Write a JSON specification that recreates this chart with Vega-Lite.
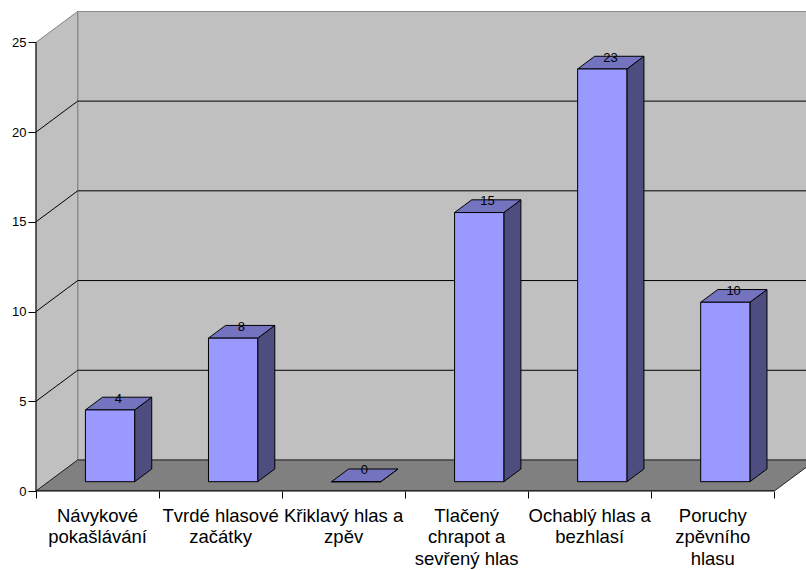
{
  "$schema": "https://vega.github.io/schema/vega-lite/v6.json",
  "width": 770,
  "height": 480,
  "autosize": {"type": "none"},
  "padding": {"left": 36, "top": 11, "right": 0, "bottom": 79},
  "background": "white",
  "config": {
    "view": {"stroke": null},
    "font": "Liberation Sans",
    "axisX": {"labels": false, "domain": false, "grid": false, "ticks": true, "tickColor": "black", "tickSize": 7},
    "axisY": {"domain": false, "grid": false, "ticks": true, "tickColor": "black", "tickSize": 8, "labelPadding": 2, "labelFontSize": 13, "labelColor": "black", "labelFont": "Liberation Sans"}
  },
  "datasets": {
    "bars": [
      {"cat": "Návykové\npokašlávání", "value": 4},
      {"cat": "Tvrdé hlasové\nzačátky", "value": 8},
      {"cat": "Křiklavý hlas a\nzpěv", "value": 0},
      {"cat": "Tlačený\nchrapot a\nsevřený hlas", "value": 15},
      {"cat": "Ochablý hlas a\nbezhlasí", "value": 23},
      {"cat": "Poruchy\nzpěvního\nhlasu", "value": 10}
    ],
    "depth": [{"d": 0}, {"d": 1}],
    "grid": [{"v": 5}, {"v": 10}, {"v": 15}, {"v": 20}]
  },
  "layer": [
    {
      "data": {"values": [{}]},
      "mark": {"type": "rect", "fill": "#c0c0c0", "stroke": "#808080", "strokeWidth": 1, "clip": true},
      "encoding": {
        "x": {"datum": 0.3389, "type": "quantitative", "title": null,
              "scale": {"domain": [0, 6.2576], "nice": false, "zero": false},
              "axis": {"values": [0, 1, 2, 3, 4, 5, 6], "title": null}},
        "x2": {"datum": 6.6},
        "y": {"datum": 1.728, "type": "quantitative", "title": null,
              "scale": {"domain": [0, 26.75], "nice": false, "zero": false},
              "axis": {"values": [0, 5, 10, 15, 20, 25], "title": null}},
        "y2": {"datum": 26.728}
      }
    },
    {
      "data": {"name": "depth"},
      "transform": [
        {"calculate": "datum.d * 0.3389", "as": "wx"},
        {"calculate": "datum.d * 1.728", "as": "wy"},
        {"calculate": "25 + datum.d * 1.728", "as": "wy2"}
      ],
      "mark": {"type": "area", "orient": "vertical", "fill": "#c0c0c0", "stroke": "#808080", "strokeWidth": 1},
      "encoding": {
        "x": {"field": "wx", "type": "quantitative", "title": null},
        "y": {"field": "wy", "type": "quantitative", "title": null},
        "y2": {"field": "wy2"}
      }
    },
    {
      "data": {"name": "grid"},
      "transform": [{"calculate": "datum.v + 1.728", "as": "gy"}],
      "mark": {"type": "rule", "color": "black", "strokeWidth": 1, "clip": true},
      "encoding": {
        "x": {"datum": 0.3389, "type": "quantitative", "title": null},
        "x2": {"datum": 6.6},
        "y": {"field": "gy", "type": "quantitative", "title": null}
      }
    },
    {
      "data": {"name": "grid"},
      "transform": [{"calculate": "datum.v + 1.728", "as": "gy"}],
      "mark": {"type": "rule", "color": "black", "strokeWidth": 1},
      "encoding": {
        "x": {"datum": 0, "type": "quantitative", "title": null},
        "x2": {"datum": 0.3389},
        "y": {"field": "v", "type": "quantitative", "title": null},
        "y2": {"field": "gy"}
      }
    },
    {
      "data": {"name": "depth"},
      "transform": [
        {"calculate": "datum.d * 1.728", "as": "fy"},
        {"calculate": "datum.d * 0.3389", "as": "fx"},
        {"calculate": "6 + datum.d * 0.3389", "as": "fx2"}
      ],
      "mark": {"type": "area", "orient": "horizontal", "fill": "#808080", "stroke": "#222222", "strokeWidth": 1, "clip": true},
      "encoding": {
        "y": {"field": "fy", "type": "quantitative", "title": null},
        "x": {"field": "fx", "type": "quantitative", "title": null},
        "x2": {"field": "fx2"}
      }
    },
    {
      "data": {"values": [{}]},
      "mark": {"type": "rule", "color": "black", "strokeWidth": 1},
      "encoding": {
        "x": {"datum": 0, "type": "quantitative", "title": null},
        "x2": {"datum": 6},
        "y": {"datum": 0, "type": "quantitative", "title": null}
      }
    },
    {
      "data": {"values": [{}]},
      "mark": {"type": "rule", "color": "black", "strokeWidth": 1},
      "encoding": {
        "x": {"datum": 0, "type": "quantitative", "title": null},
        "y": {"datum": 0, "type": "quantitative", "title": null},
        "y2": {"datum": 25}
      }
    },
    {
      "data": {"name": "bars"},
      "transform": [
        {"window": [{"op": "row_number", "as": "rn"}]},
        {"calculate": "datum.rn - 1", "as": "i"},
        {"calculate": "0.3", "as": "f0"},
        {"calculate": "0.71", "as": "f1"},
        {"fold": ["f0", "f1"], "as": ["k", "d"]},
        {"calculate": "datum.i + 0.7 + datum.d * 0.3389", "as": "sx"},
        {"calculate": "datum.d * 1.728", "as": "sy"},
        {"calculate": "datum.value + datum.d * 1.728", "as": "sy2"}
      ],
      "mark": {"type": "area", "orient": "vertical", "fill": "#4d4d80", "stroke": "black", "strokeWidth": 1, "strokeJoin": "miter"},
      "encoding": {
        "x": {"field": "sx", "type": "quantitative", "title": null},
        "y": {"field": "sy", "type": "quantitative", "title": null},
        "y2": {"field": "sy2"},
        "detail": {"field": "cat"}
      }
    },
    {
      "data": {"name": "bars"},
      "transform": [
        {"window": [{"op": "row_number", "as": "rn"}]},
        {"calculate": "datum.rn - 1", "as": "i"},
        {"calculate": "0.3", "as": "f0"},
        {"calculate": "0.71", "as": "f1"},
        {"fold": ["f0", "f1"], "as": ["k", "d"]},
        {"calculate": "datum.value + datum.d * 1.728", "as": "ty"},
        {"calculate": "datum.i + 0.3 + datum.d * 0.3389", "as": "tx"},
        {"calculate": "datum.i + 0.7 + datum.d * 0.3389", "as": "tx2"}
      ],
      "mark": {"type": "area", "orient": "horizontal", "fill": "#7373bf", "stroke": "black", "strokeWidth": 1, "strokeJoin": "miter"},
      "encoding": {
        "y": {"field": "ty", "type": "quantitative", "title": null},
        "x": {"field": "tx", "type": "quantitative", "title": null},
        "x2": {"field": "tx2"},
        "detail": {"field": "cat"}
      }
    },
    {
      "data": {"name": "bars"},
      "transform": [
        {"window": [{"op": "row_number", "as": "rn"}]},
        {"calculate": "datum.rn - 1", "as": "i"},
        {"calculate": "datum.i + 0.3 + 0.3 * 0.3389", "as": "bx"},
        {"calculate": "datum.i + 0.7 + 0.3 * 0.3389", "as": "bx2"},
        {"calculate": "0.3 * 1.728", "as": "by"},
        {"calculate": "datum.value + 0.3 * 1.728", "as": "by2"}
      ],
      "mark": {"type": "rect", "fill": "#9999ff", "stroke": "black", "strokeWidth": 1},
      "encoding": {
        "x": {"field": "bx", "type": "quantitative", "title": null},
        "x2": {"field": "bx2"},
        "y": {"field": "by", "type": "quantitative", "title": null},
        "y2": {"field": "by2"}
      }
    },
    {
      "data": {"name": "bars"},
      "transform": [
        {"window": [{"op": "row_number", "as": "rn"}]},
        {"calculate": "datum.rn - 0.5 + 0.5 * 0.3389", "as": "lx"},
        {"calculate": "datum.value + 0.5 * 1.728", "as": "ly"}
      ],
      "mark": {"type": "text", "font": "Liberation Sans", "fontSize": 13, "color": "black", "align": "center", "baseline": "alphabetic", "dy": -1},
      "encoding": {
        "x": {"field": "lx", "type": "quantitative", "title": null},
        "y": {"field": "ly", "type": "quantitative", "title": null},
        "text": {"field": "value", "type": "quantitative"}
      }
    },
    {
      "data": {"name": "bars"},
      "transform": [
        {"window": [{"op": "row_number", "as": "rn"}]},
        {"calculate": "datum.rn - 0.5", "as": "cx"}
      ],
      "mark": {"type": "text", "font": "Liberation Sans", "fontSize": 18.5, "color": "black", "align": "center", "baseline": "alphabetic", "dy": 30.5, "lineBreak": "\n", "lineHeight": 21.7},
      "encoding": {
        "x": {"field": "cx", "type": "quantitative", "title": null},
        "y": {"datum": 0, "type": "quantitative", "title": null},
        "text": {"field": "cat", "type": "nominal"}
      }
    }
  ]
}
